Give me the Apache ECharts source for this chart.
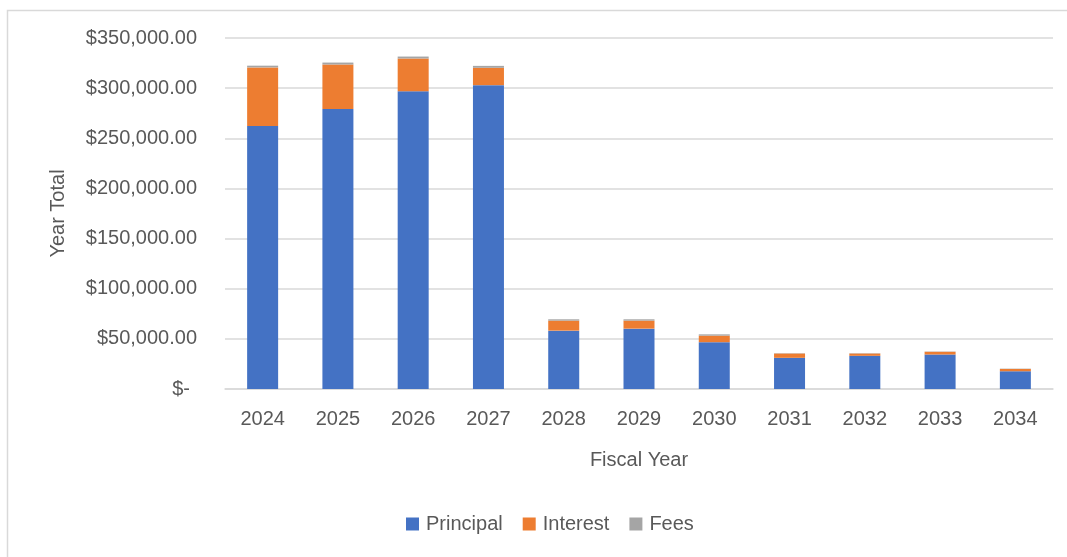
<!DOCTYPE html>
<html>
<head>
<meta charset="utf-8">
<script src="https://cdn.jsdelivr.net/npm/echarts@6/dist/echarts.min.js"></script>
<style>
  html, body { margin: 0; padding: 0; background: #ffffff; }
  #chart { width: 1067px; height: 557px; }
</style>
</head>
<body>
<div id="chart"></div>
<script>
// Fiscal years on the category axis
const years = ['2024', '2025', '2026', '2027', '2028', '2029', '2030', '2031', '2032', '2033', '2034'];

// Yearly totals split into stacked components (USD)
const principal = [262300, 279300, 297000, 303000, 58200, 60200, 46700, 31100, 33100, 34400, 17700];
const interest  = [58400, 44300, 32600, 17300, 10000, 8000, 6500, 4300, 2300, 2700, 2300];
const fees      = [1700, 1900, 1900, 1900, 1300, 1300, 1300, 300, 300, 300, 300];

// Value axis ticks
const yMin = 0;
const yMax = 350000;
const yStep = 50000;

const textColor = '#595959';
const lineColor = '#d9d9d9';
const fontFamily = '"Liberation Sans", Arial, sans-serif';

function money(v) {
  if (v === 0) return '{z|$-}';
  return '$' + v.toLocaleString('en-US', { minimumFractionDigits: 2, maximumFractionDigits: 2 });
}

const chart = echarts.init(document.getElementById('chart'), null, { renderer: 'canvas' });

chart.setOption({
  animation: false,
  backgroundColor: '#ffffff',
  textStyle: { fontFamily: fontFamily },
  graphic: [{
    type: 'rect',
    shape: { x: 7.5, y: 10.5, width: 1200, height: 700 },
    style: { fill: 'none', stroke: lineColor, lineWidth: 1.5 },
    silent: true
  }],
  grid: { left: 225, right: 14, top: 38, bottom: 168, containLabel: false },
  legend: {
    left: 401,
    top: 509,
    icon: 'rect',
    itemWidth: 13,
    itemHeight: 13,
    itemGap: 20,
    textStyle: { color: textColor, fontSize: 20, fontFamily: fontFamily, padding: [0, 0, 0, 2] },
    data: ['Principal', 'Interest', 'Fees']
  },
  xAxis: {
    type: 'category',
    data: years,
    name: 'Fiscal Year',
    nameLocation: 'middle',
    nameGap: 61,
    nameTextStyle: { color: textColor, fontSize: 20, fontFamily: fontFamily },
    axisLine: { show: true, lineStyle: { color: lineColor, width: 1.5 } },
    axisTick: { show: false },
    axisLabel: { color: textColor, fontSize: 20, margin: 20, fontFamily: fontFamily },
    splitLine: { show: false }
  },
  yAxis: {
    type: 'value',
    min: yMin,
    max: yMax,
    interval: yStep,
    name: 'Year Total',
    nameLocation: 'middle',
    nameGap: 157,
    nameTextStyle: { color: textColor, fontSize: 20, fontFamily: fontFamily },
    axisLine: { show: false },
    axisTick: { show: false },
    axisLabel: {
      color: textColor,
      fontSize: 20,
      margin: 28,
      fontFamily: fontFamily,
      formatter: money,
      rich: { z: { color: textColor, fontSize: 20, fontFamily: fontFamily, padding: [0, 7, 0, 0] } }
    },
    splitLine: { show: true, lineStyle: { color: lineColor, width: 1.5 } }
  },
  series: [
    { name: 'Principal', type: 'bar', stack: 'total', barWidth: 31, data: principal, itemStyle: { color: '#4472C4' } },
    { name: 'Interest',  type: 'bar', stack: 'total', barWidth: 31, data: interest,  itemStyle: { color: '#ED7D31' } },
    { name: 'Fees',      type: 'bar', stack: 'total', barWidth: 31, data: fees,      itemStyle: { color: '#A5A5A5' } }
  ]
});
</script>
</body>
</html>
